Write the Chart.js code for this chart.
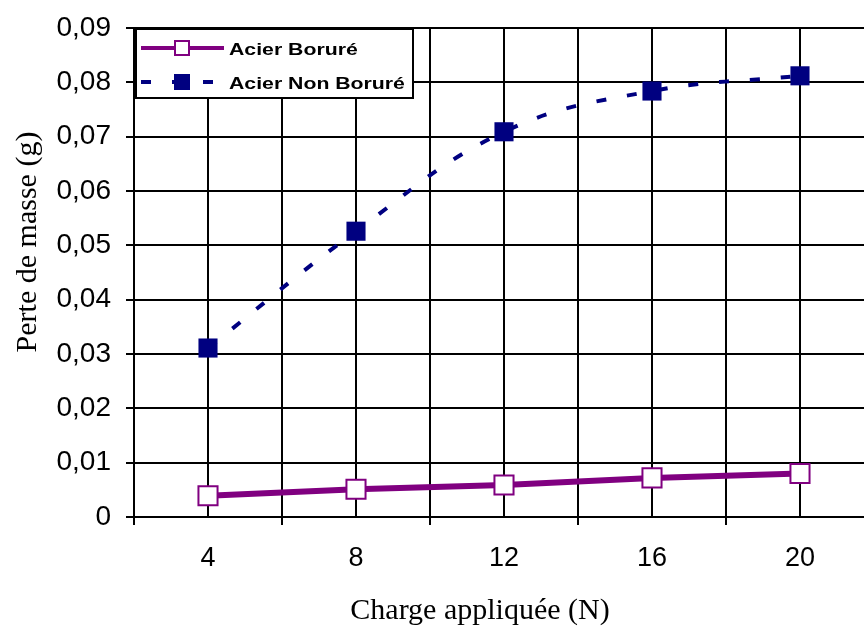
<!DOCTYPE html>
<html>
<head>
<meta charset="utf-8">
<script src="https://cdn.jsdelivr.net/npm/chart.js@4/dist/chart.umd.min.js"></script>
<style>
  html, body { margin: 0; padding: 0; background: #fff; }
  #wrap { width: 864px; height: 627px; }
</style>
</head>
<body>
<div id="wrap"><canvas id="chart" width="864" height="627"></canvas></div>
<script>
const charges = [4, 8, 12, 16, 20];
const acierBorure = [0.0039, 0.0051, 0.0059, 0.0072, 0.0080];
const acierNonBorure = [0.0311, 0.0526, 0.0709, 0.0784, 0.0812];
const xTicks = [2, 4, 6, 8, 10, 12, 14, 16, 18, 20];
const xLabels = [4, 8, 12, 16, 20];
const seriesNames = ['Acier Boruré', 'Acier Non Boruré'];
const xTitle = 'Charge appliquée (N)';
const yTitle = 'Perte de masse (g)';

const PURPLE = '#800080';
const NAVY = '#000080';
const SANS = '"Liberation Sans", Arial, sans-serif';
const SERIF = '"Liberation Serif", "Times New Roman", serif';

// axis titles (Excel placed them a bit off-centre)
const axisTitles = {
  id: 'axisTitles',
  afterDraw(chart) {
    const { ctx } = chart;
    ctx.save();
    ctx.fillStyle = '#000';
    ctx.font = '30px ' + SERIF;
    ctx.textAlign = 'center';
    ctx.textBaseline = 'alphabetic';
    ctx.fillText(xTitle, 480, 619);
    ctx.translate(36, 242);
    ctx.rotate(-Math.PI / 2);
    ctx.fillText(yTitle, 0, 0);
    ctx.restore();
  }
};

// legend box drawn inside the plot, top-left
const boxLegend = {
  id: 'boxLegend',
  afterDraw(chart) {
    const { ctx, chartArea } = chart;
    const x0 = chartArea.left + 1, y0 = chartArea.top;
    const w = 279, h = 71;
    ctx.save();
    ctx.fillStyle = '#fff';
    ctx.fillRect(x0, y0, w, h);
    ctx.strokeStyle = '#000';
    ctx.lineWidth = 2;
    ctx.strokeRect(x0 + 1, y0 + 1, w - 2, h - 2);

    const rows = [y0 + 20, y0 + 54];
    const lx1 = x0 + 6, lx2 = x0 + 89, mx = x0 + 47;

    ctx.strokeStyle = PURPLE;
    ctx.lineWidth = 4;
    ctx.beginPath();
    ctx.moveTo(lx1, rows[0]); ctx.lineTo(lx2, rows[0]);
    ctx.stroke();
    ctx.fillStyle = '#fff';
    ctx.lineWidth = 2;
    ctx.fillRect(mx - 7, rows[0] - 7, 14, 14);
    ctx.strokeRect(mx - 7, rows[0] - 7, 14, 14);

    ctx.strokeStyle = NAVY;
    ctx.lineWidth = 4;
    ctx.setLineDash([10, 21]);
    ctx.beginPath();
    ctx.moveTo(lx1, rows[1]); ctx.lineTo(lx2, rows[1]);
    ctx.stroke();
    ctx.setLineDash([]);
    ctx.fillStyle = NAVY;
    ctx.fillRect(mx - 8, rows[1] - 8, 16, 16);

    ctx.fillStyle = '#000';
    ctx.font = 'bold 17px ' + SANS;
    ctx.textBaseline = 'alphabetic';
    [0, 1].forEach(i => {
      ctx.save();
      ctx.translate(x0 + 94, rows[i] + 7);
      ctx.scale(1.25, 1);
      ctx.fillText(seriesNames[i], 0, 0);
      ctx.restore();
    });
    ctx.restore();
  }
};

// no automatic label padding around the plot
function noPad(scale) {
  scale.paddingTop = 0;
  scale.paddingBottom = 0;
  scale.paddingLeft = 0;
  scale.paddingRight = 0;
}

new Chart(document.getElementById('chart'), {
  type: 'line',
  data: {
    datasets: [
      {
        label: seriesNames[0],
        data: charges.map((c, i) => ({ x: c, y: acierBorure[i] })),
        borderColor: PURPLE,
        borderWidth: 6,
        pointStyle: 'rect',
        pointRadius: 13.5,
        pointBorderWidth: 2,
        pointBorderColor: PURPLE,
        pointBackgroundColor: '#fff',
        tension: 0
      },
      {
        label: seriesNames[1],
        data: charges.map((c, i) => ({ x: c, y: acierNonBorure[i] })),
        borderColor: NAVY,
        borderWidth: 4,
        borderDash: [10, 21],
        pointStyle: 'rect',
        pointRadius: 13.5,
        pointBorderWidth: 0,
        pointBackgroundColor: NAVY,
        tension: 0.4
      }
    ]
  },
  options: {
    responsive: false,
    animation: false,
    layout: { autoPadding: false, padding: { top: 28, right: 0, left: 0, bottom: 0 } },
    plugins: { legend: { display: false }, tooltip: { enabled: false } },
    scales: {
      x: {
        type: 'linear',
        min: 2,
        max: 21.73,
        afterBuildTicks(scale) { scale.ticks = xTicks.map(v => ({ value: v })); },
        afterFit(scale) { scale.height = 110; noPad(scale); },
        ticks: {
          autoSkip: false,
          maxRotation: 0,
          padding: 17,
          color: '#000',
          font: { family: SANS, size: 27 },
          callback: v => xLabels.includes(v) ? String(v) : ''
        },
        grid: {
          color: '#000',
          lineWidth: 2,
          tickLength: 8,
          tickColor: ctx => (ctx.tick && xLabels.includes(ctx.tick.value)) ? 'rgba(0,0,0,0)' : '#000'
        },
        border: { color: '#000', width: 2 }
      },
      y: {
        min: 0,
        max: 0.09,
        afterFit(scale) { scale.width = 134; noPad(scale); },
        ticks: {
          stepSize: 0.01,
          padding: 15,
          color: '#000',
          font: { family: SANS, size: 28 },
          callback: v => v === 0 ? '0' : v.toFixed(2).replace('.', ',')
        },
        grid: { color: '#000', lineWidth: 2, tickLength: 8 },
        border: { color: '#000', width: 2 }
      }
    }
  },
  plugins: [boxLegend, axisTitles]
});
</script>
</body>
</html>
